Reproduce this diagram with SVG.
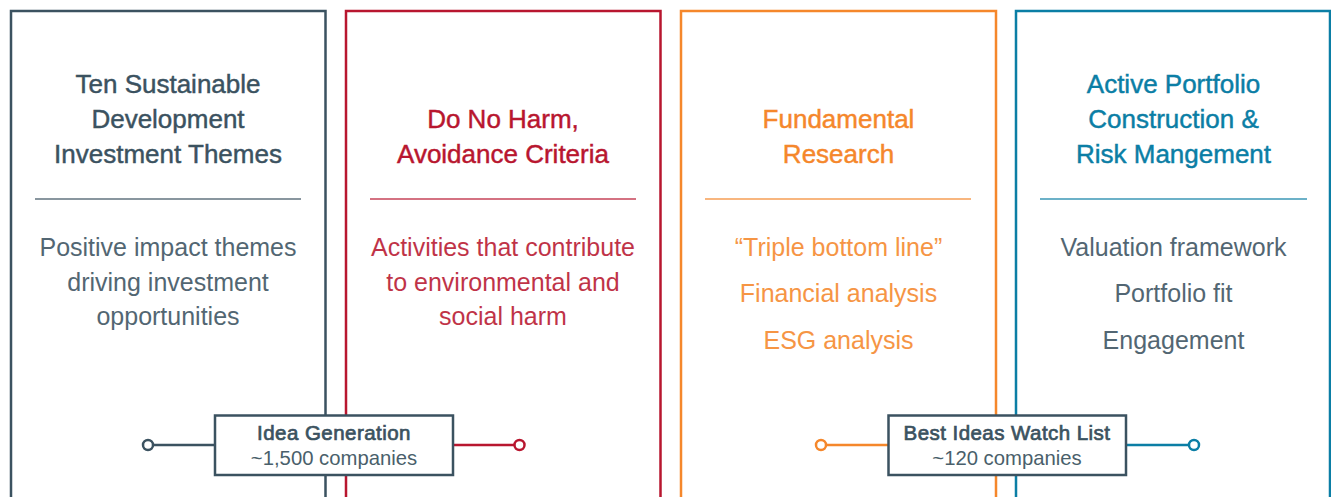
<svg xmlns="http://www.w3.org/2000/svg" width="1331" height="497" viewBox="0 0 1331 497">
<style>
.frame{fill:none;stroke-width:2.5}
.div{stroke-width:1.5;opacity:0.8}
.t{font-family:"Liberation Sans",Arial,Helvetica,sans-serif;text-anchor:middle;stroke:none}
.title{font-size:26px;stroke-width:0.45px}
.body{font-size:25px;opacity:0.88}
.s-slate{stroke:#3b5260}
.s-red{stroke:#b8162f}
.s-orange{stroke:#f5872b}
.s-blue{stroke:#0b7ea5}
.f-slate{fill:#3b5260}
.f-red{fill:#b8162f}
.f-orange{fill:#f5872b}
.f-blue{fill:#0b7ea5}
.title.f-slate{stroke:#3b5260}
.title.f-red{stroke:#b8162f}
.title.f-orange{stroke:#f5872b}
.title.f-blue{stroke:#0b7ea5}
.box{fill:#ffffff;stroke:#3b5260;stroke-width:2.5}
.boxh{font-size:20.5px;letter-spacing:0.45px;fill:#3b5260;stroke:#3b5260;stroke-width:0.7px}
.boxs{font-size:20.3px;fill:#4a5f6b}
.end{fill:#ffffff;stroke-width:2.5}
.conn{stroke-width:2.5;fill:none}
</style>
<rect width="1331" height="497" fill="#ffffff"/>
<g id="panel-themes">
<path class="frame s-slate" d="M11 497V11H325.5V497"/>
<line class="div s-slate" x1="35" y1="199" x2="301" y2="199"/>
<text class="t title f-slate" x="168" y="92.5">Ten Sustainable</text>
<text class="t title f-slate" x="168" y="127.5">Development</text>
<text class="t title f-slate" x="168" y="162.5">Investment Themes</text>
<text class="t body f-slate" x="168" y="256">Positive impact themes</text>
<text class="t body f-slate" x="168" y="290.5">driving investment</text>
<text class="t body f-slate" x="168" y="325">opportunities</text>
</g>
<g id="panel-harm">
<path class="frame s-red" d="M346 497V11H660.5V497"/>
<line class="div s-red" x1="370" y1="199" x2="636" y2="199"/>
<text class="t title f-red" x="503" y="127.5">Do No Harm,</text>
<text class="t title f-red" x="503" y="162.5">Avoidance Criteria</text>
<text class="t body f-red" x="503" y="256">Activities that contribute</text>
<text class="t body f-red" x="503" y="290.5">to environmental and</text>
<text class="t body f-red" x="503" y="325">social harm</text>
</g>
<g id="panel-research">
<path class="frame s-orange" d="M681 497V11H996V497"/>
<line class="div s-orange" x1="705" y1="199" x2="971" y2="199"/>
<text class="t title f-orange" x="838.5" y="127.5">Fundamental</text>
<text class="t title f-orange" x="838.5" y="162.5">Research</text>
<text class="t body f-orange" x="838.5" y="255.5">“Triple bottom line”</text>
<text class="t body f-orange" x="838.5" y="302">Financial analysis</text>
<text class="t body f-orange" x="838.5" y="348.5">ESG analysis</text>
</g>
<g id="panel-portfolio">
<path class="frame s-blue" d="M1016 497V11H1330V497"/>
<line class="div s-blue" x1="1040" y1="199" x2="1307" y2="199"/>
<text class="t title f-blue" x="1173.5" y="92.5">Active Portfolio</text>
<text class="t title f-blue" x="1173.5" y="127.5">Construction &amp;</text>
<text class="t title f-blue" x="1173.5" y="162.5">Risk Mangement</text>
<text class="t body f-slate" x="1173.5" y="255.5">Valuation framework</text>
<text class="t body f-slate" x="1173.5" y="302">Portfolio fit</text>
<text class="t body f-slate" x="1173.5" y="348.5">Engagement</text>
</g>
<g id="connectors">
<line class="conn s-slate" x1="153" y1="445" x2="215" y2="445"/>
<circle class="end s-slate" cx="148" cy="445" r="5"/>
<line class="conn s-red" x1="453" y1="445" x2="514" y2="445"/>
<circle class="end s-red" cx="519.5" cy="445" r="5"/>
<line class="conn s-orange" x1="826" y1="445" x2="888" y2="445"/>
<circle class="end s-orange" cx="821" cy="445" r="5"/>
<line class="conn s-blue" x1="1126" y1="445" x2="1189" y2="445"/>
<circle class="end s-blue" cx="1194" cy="445" r="5"/>
</g>
<g id="node-idea-generation">
<rect class="box" x="215" y="415.5" width="238" height="59.5"/>
<text class="t boxh" x="334" y="440">Idea Generation</text>
<text class="t boxs" x="334" y="465">~1,500 companies</text>
</g>
<g id="node-best-ideas">
<rect class="box" x="888.5" y="415.5" width="237.5" height="59.5"/>
<text class="t boxh" x="1007" y="440">Best Ideas Watch List</text>
<text class="t boxs" x="1007" y="465">~120 companies</text>
</g>
</svg>
